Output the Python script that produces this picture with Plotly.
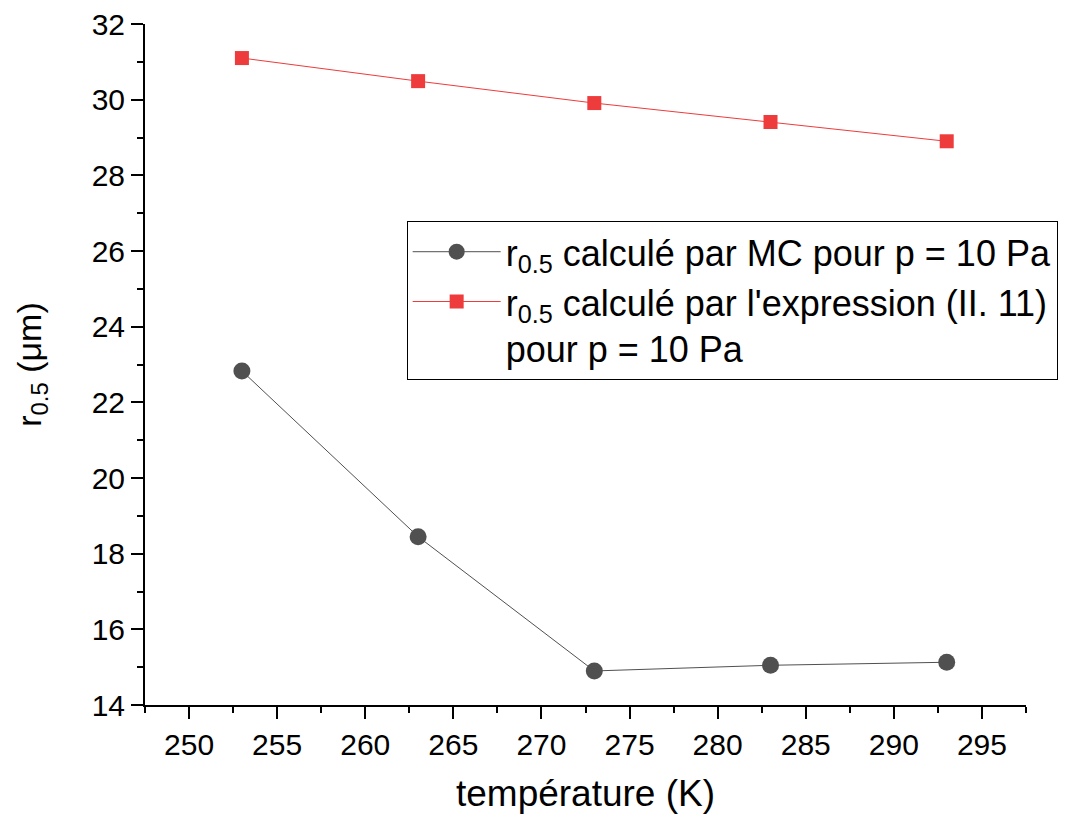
import plotly.graph_objects as go

temperature = [253, 263, 273, 283, 293]
r05_mc = [22.83, 18.45, 14.90, 15.05, 15.13]
r05_expr = [31.10, 30.49, 29.91, 29.41, 28.90]

name_mc = "r<sub>0.5</sub> calculé par MC pour p = 10 Pa"
name_expr = "r<sub>0.5</sub> calculé par l'expression (II. 11)<br>pour p = 10 Pa"

fig = go.Figure()
fig.add_trace(go.Scatter(
    x=temperature, y=r05_mc, mode="lines+markers", name=name_mc,
    line=dict(color="#505050", width=1),
    marker=dict(symbol="circle", size=17, color="#505050"),
    legendgroup="a",
))
fig.add_trace(go.Scatter(
    x=temperature, y=r05_expr, mode="lines+markers", name=name_expr,
    line=dict(color="#EE3B3B", width=1),
    marker=dict(symbol="square", size=14, color="#EE3B3B"),
    legendgroup="b",
))

font_family = "Liberation Sans, Arial, sans-serif"
fig.update_layout(
    width=1070, height=814,
    margin=dict(l=145, r=44, t=24, b=109),
    paper_bgcolor="white", plot_bgcolor="white",
    font=dict(family=font_family, color="black"),
    showlegend=True,
    legend=dict(
        x=0.297, y=0.711, xanchor="left", yanchor="top",
        bordercolor="black", borderwidth=1, bgcolor="white",
        font=dict(size=36, family=font_family),
        valign="top", traceorder="grouped", tracegroupgap=0,
        itemwidth=88,
    ),
)
fig.update_xaxes(
    range=[247.5, 297.5], dtick=5, tick0=250, automargin=False,
    showline=True, linecolor="black", linewidth=2,
    ticks="outside", ticklen=12, tickwidth=2, tickcolor="black",
    minor=dict(ticks="outside", ticklen=6, tickwidth=2, tickcolor="black", dtick=2.5, tick0=247.5),
    showgrid=False, zeroline=False,
    tickfont=dict(size=30),
    title=dict(text="température (K)", font=dict(size=37), standoff=20),
)
fig.update_yaxes(
    range=[14, 32], dtick=2, tick0=14, automargin=False,
    showline=True, linecolor="black", linewidth=2,
    ticks="outside", ticklen=12, tickwidth=2, tickcolor="black",
    minor=dict(ticks="outside", ticklen=6, tickwidth=2, tickcolor="black", dtick=1),
    showgrid=False, zeroline=False,
    tickfont=dict(size=30),
    title=dict(text="r<sub>0.5</sub> (μm)", font=dict(size=34), standoff=40),
)

fig.write_html("out.html")
